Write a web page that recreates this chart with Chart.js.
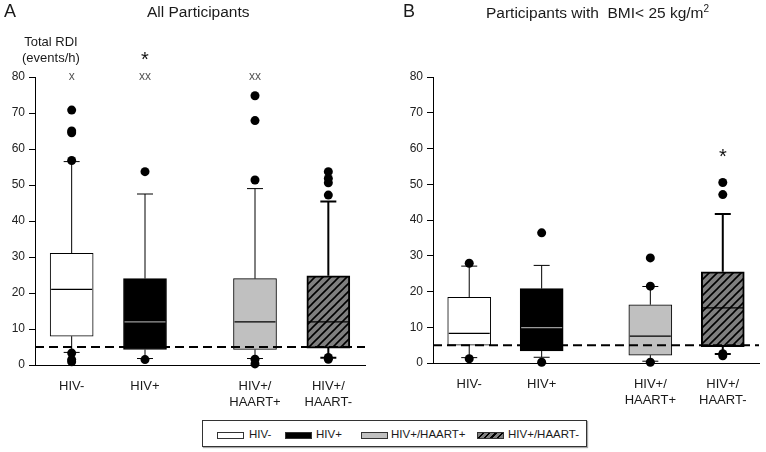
<!DOCTYPE html>
<html>
<head>
<meta charset="utf-8">
<script src="https://cdn.jsdelivr.net/npm/chart.js@4.4.1/dist/chart.umd.min.js"></script>
<style>
  body { margin: 0; background: #fff; font-family: "Liberation Sans", Arial, sans-serif; color: #1a1a1a; }
  #wrap { position: relative; width: 766px; height: 452px; overflow: hidden; }
  canvas { position: absolute; top: 0; }
  .t { position: absolute; white-space: nowrap; line-height: 1; }
  .legend { position: absolute; left: 202px; top: 420px; width: 383px; height: 25px; border: 1px solid #333; box-shadow: 1px 1px 1px #aaa; }
  .sw { position: absolute; top: 11px; width: 25px; height: 5px; border: 1px solid #333; }
  .lt { position: absolute; top: 7px; font-size: 11.5px; }
</style>
</head>
<body>
<div id="wrap">
  <canvas id="chartA" width="383" height="410" style="left:0"></canvas>
  <canvas id="chartB" width="368" height="410" style="left:398px"></canvas>

  <div class="t" style="left:4px;top:2px;font-size:18px">A</div>
  <div class="t" style="left:147px;top:4px;font-size:15.5px">All Participants</div>
  <div class="t" style="left:22px;top:34px;font-size:13px;text-align:center;line-height:16px">Total RDI<br>(events/h)</div>

  <div class="t" style="left:403px;top:2px;font-size:18px">B</div>
  <div class="t" style="left:486px;top:4px;font-size:15.5px">Participants with&nbsp; BMI&lt; 25 kg/m<sup style="font-size:10px;vertical-align:6px">2</sup></div>

  <div class="legend">
    <div class="sw" style="left:14px;background:#fff"></div>
    <div class="lt" style="left:46px">HIV-</div>
    <div class="sw" style="left:82px;background:#000"></div>
    <div class="lt" style="left:113px">HIV+</div>
    <div class="sw" style="left:158px;background:#c0c0c0"></div>
    <div class="lt" style="left:188px">HIV+/HAART+</div>
    <div class="sw" style="left:274px;background:repeating-linear-gradient(135deg,#7f7f7f 0 3px,#000 3px 4.5px)"></div>
    <div class="lt" style="left:305px">HIV+/HAART-</div>
  </div>
</div>

<script>
// groups and x positions (extra gap between HIV+ and the HAART groups)
const groups = ["HIV-", "HIV+", "HIV+/HAART+", "HIV+/HAART-"];
const tickLabels = [["HIV-"], ["HIV+"], ["HIV+/", "HAART+"], ["HIV+/", "HAART-"]];
const xPos = [0, 1, 2.5, 3.5];
const cutoff = 5;

// Panel A: all participants
const allLow = [3.5, 1.8, 1.8, 2.0];
const allQ1 = [8, 4.3, 4.3, 4.7];
const allMed = [21, 12, 12, 12];
const allQ3 = [31, 24, 24, 24.8];
const allHigh = [56.5, 47.5, 49, 45.4];
const allOut = [
  [70.8, 65, 64.5, 56.8, 3.3, 1.5, 0.9],
  [53.7, 1.5],
  [74.8, 67.9, 51.4, 1.6, 0.3],
  [53.7, 51.8, 50.6, 47.2, 2.1, 1.6]
];
const allMarks = ["x", "xx", "xx", ""];
const allStar = [null, 85.6, null, null];

// Panel B: BMI < 25
const bmiLow = [1.5, 1.6, 0.5, 2.5];
const bmiQ1 = [5.0, 3.4, 2.2, 4.6];
const bmiMed = [8.3, 9.9, 7.5, 15.4];
const bmiQ3 = [18.4, 20.8, 16.3, 25.5];
const bmiHigh = [27.1, 27.3, 21.4, 41.7];
const bmiOut = [
  [27.9, 1.2],
  [36.4, 0.2],
  [29.4, 21.5, 0.2],
  [50.5, 47.1, 2.6, 2.0]
];
const bmiMarks = ["", "", "", ""];
const bmiStar = [null, null, null, 58.7];

function hatch() {
  const c = document.createElement("canvas");
  c.width = 8; c.height = 8;
  const g = c.getContext("2d");
  g.fillStyle = "#7f7f7f";
  g.fillRect(0, 0, 8, 8);
  g.strokeStyle = "#000";
  g.lineWidth = 1.6;
  g.beginPath();
  g.moveTo(0, 8); g.lineTo(8, 0);
  g.moveTo(-2, 2); g.lineTo(2, -2);
  g.moveTo(6, 10); g.lineTo(10, 6);
  g.stroke();
  return g.createPattern(c, "repeat");
}

const fills = ["#ffffff", "#000000", "#c0c0c0", hatch()];
const medColors = ["#000", "#9a9a9a", "#000", "#000"];
const lineW = [1, 1, 1, 2];

const boxPlugin = {
  id: "boxParts",
  afterDatasetDraw(chart, args) {
    if (args.index !== 0) return;
    const d = chart.options.plugins.boxParts;
    const x = chart.scales.x, y = chart.scales.y, ctx = chart.ctx;
    const half = 21.5, cap = 8;
    ctx.save();
    xPos.forEach((v, i) => {
      const px = x.getPixelForValue(v);
      ctx.lineWidth = lineW[i];
      ctx.strokeStyle = "#000";
      ctx.beginPath();
      ctx.moveTo(px, y.getPixelForValue(d.q3[i]));
      ctx.lineTo(px, y.getPixelForValue(d.high[i]));
      ctx.moveTo(px - cap, y.getPixelForValue(d.high[i]));
      ctx.lineTo(px + cap, y.getPixelForValue(d.high[i]));
      ctx.moveTo(px, y.getPixelForValue(d.q1[i]));
      ctx.lineTo(px, y.getPixelForValue(d.low[i]));
      ctx.moveTo(px - cap, y.getPixelForValue(d.low[i]));
      ctx.lineTo(px + cap, y.getPixelForValue(d.low[i]));
      ctx.stroke();
      ctx.strokeStyle = medColors[i];
      ctx.lineWidth = 1.2;
      ctx.beginPath();
      ctx.moveTo(px - half + 1, y.getPixelForValue(d.med[i]));
      ctx.lineTo(px + half - 1, y.getPixelForValue(d.med[i]));
      ctx.stroke();
    });
    ctx.restore();
  },
  afterDraw(chart) {
    const d = chart.options.plugins.boxParts;
    const x = chart.scales.x, y = chart.scales.y, ctx = chart.ctx;
    ctx.save();
    ctx.textAlign = "center";
    ctx.textBaseline = "middle";
    xPos.forEach((v, i) => {
      const px = x.getPixelForValue(v);
      if (d.marks[i]) {
        ctx.fillStyle = "#555";
        ctx.font = "12px 'Liberation Sans', Arial, sans-serif";
        ctx.fillText(d.marks[i], px, y.getPixelForValue(80));
      }
      if (d.star[i] != null) {
        ctx.fillStyle = "#111";
        ctx.font = "20px 'Liberation Sans', Arial, sans-serif";
        ctx.fillText("*", px, y.getPixelForValue(d.star[i]) + 4);
      }
    });
    ctx.restore();
  }
};

function makeChart(id, low, q1, med, q3, high, out, marks, star, padRight, xHeight) {
  const points = [];
  out.forEach((vals, i) => vals.forEach((v) => points.push({ x: xPos[i], y: v })));

  return new Chart(document.getElementById(id), {
    type: "bar",
    data: {
      datasets: [
        {
          type: "bar",
          data: xPos.map((v, i) => ({ x: v, y: [q1[i], q3[i]] })),
          backgroundColor: fills,
          borderColor: "#000",
          borderWidth: lineW,
          borderSkipped: false,
          barThickness: 43,
          order: 3
        },
        {
          type: "line",
          data: [{ x: -0.5, y: cutoff }, { x: 4, y: cutoff }],
          borderColor: "#000",
          borderWidth: 2,
          borderDash: [9, 5],
          pointRadius: 0,
          order: 2
        },
        {
          type: "scatter",
          data: points,
          backgroundColor: "#000",
          borderWidth: 0,
          pointRadius: 4.5,
          clip: false,
          order: 1
        }
      ]
    },
    options: {
      responsive: false,
      animation: false,
      events: [],
      layout: { padding: { top: 77, right: padRight, left: 0, bottom: 0 } },
      plugins: {
        legend: { display: false },
        tooltip: { enabled: false },
        boxParts: { low, q1, med, q3, high, marks, star }
      },
      scales: {
        x: {
          type: "linear",
          offset: false,
          min: -0.5,
          max: 4,
          afterBuildTicks: (s) => { s.ticks = xPos.map((v) => ({ value: v })); },
          afterFit: (s) => { s.height = xHeight; },
          grid: { display: false, offset: false },
          border: { display: true, color: "#000", width: 1 },
          ticks: {
            autoSkip: false,
            maxRotation: 0,
            padding: 5,
            color: "#1a1a1a",
            font: { family: "'Liberation Sans', Arial, sans-serif", size: 13, lineHeight: 1.25 },
            callback: (v) => tickLabels[xPos.indexOf(v)]
          }
        },
        y: {
          min: 0,
          max: 80,
          afterFit: (s) => { s.width = 35; },
          grid: { drawOnChartArea: false, drawTicks: true, tickLength: 6, color: "#000" },
          border: { display: true, color: "#000", width: 1 },
          ticks: {
            stepSize: 10,
            padding: 4,
            color: "#222",
            font: { family: "'Liberation Sans', Arial, sans-serif", size: 12 }
          }
        }
      }
    },
    plugins: [boxPlugin]
  });
}

makeChart("chartA", allLow, allQ1, allMed, allQ3, allHigh, allOut, allMarks, allStar, 18, 45);
makeChart("chartB", bmiLow, bmiQ1, bmiMed, bmiQ3, bmiHigh, bmiOut, bmiMarks, bmiStar, 7, 47);
</script>
</body>
</html>
